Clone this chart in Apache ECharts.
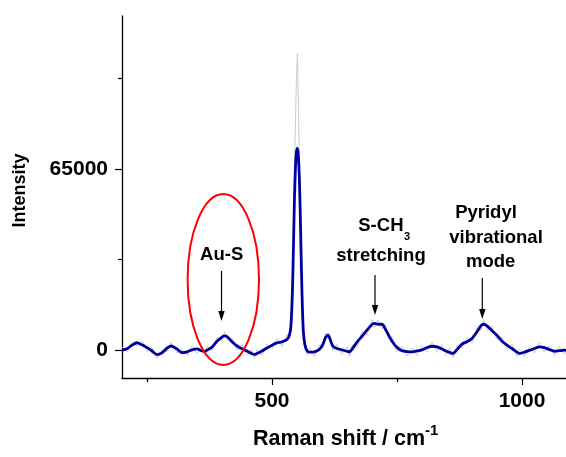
<!DOCTYPE html>
<html>
<head>
<meta charset="utf-8">
<script src="https://cdn.jsdelivr.net/npm/echarts@6/dist/echarts.min.js"></script>
<style>
html,body{margin:0;padding:0;background:#fff;}
#chart{width:566px;height:457px;}
</style>
</head>
<body>
<div id="chart"></div>
<script>
// Raman shift (cm^-1)
const ramanShift = [200,210,220,230,240,250,260,270,280,290,
 298,310,320,330,340,350,360,365,370,380,
 390,400,405,410,420,430,440,450,460,465,
 470,480,490,500,510,520,530,535,538,541,
 543,545,547,549,551,553,555,557,559,561,
 563,566,570,575,585,595,602,607,612,617,
 622,630,640,650,655,660,670,680,690,700,
 705,712,720,726,732,740,750,760,770,780,
 790,800,810,820,830,840,848,856,862,870,
 880,890,900,910,918,923,930,940,950,960,
 970,980,990,995,1005,1015,1025,1035,1045,1055,
 1065,1075,1085,1090];

// Smoothed spectrum (blue)
const smoothed = [0,500,1800,2650,1900,900,-300,-1600,-1000,700,
 1500,400,-900,-600,100,450,-300,-450,0,1100,
 3200,4700,5100,4900,3000,1500,500,-300,-1300,-1550,
 -1200,-300,800,1800,2600,3000,3800,5500,9000,22000,
 38000,55000,66000,71500,72500,69000,60000,45000,28000,14000,
 6000,1800,-200,-700,-600,300,2200,4500,5500,3500,
 1400,600,100,-400,-600,300,2900,5000,7200,9200,
 9600,9300,9300,7800,5800,3200,1000,-200,-500,-600,
 -300,100,900,1400,1200,400,-300,-900,-1200,200,
 2200,3000,4200,6600,8800,9300,8700,7000,5300,3200,
 1800,600,-700,-1200,-700,-100,600,1200,900,200,
 -400,-200,0,-100];

// Raw spectrum (grey)
const raw = [1200,-600,3000,1400,3300,-400,1000,-3000,300,-500,
 2900,-1100,400,-2100,1600,-1000,1300,-1900,1500,-300,
 4600,3300,6700,3600,4500,100,2000,-1800,200,-3100,
 300,-1800,2300,300,4300,1200,5800,4000,10500,24000,
 44000,67000,82000,99000,106600,86000,64000,46000,27000,13000,
 5000,3400,-1800,900,-2200,1900,800,6200,4000,5200,
 -200,2200,-1500,1200,-2300,1800,1300,6600,5600,11000,
 8000,11000,7700,9500,4200,4900,-600,1400,-2100,1000,
 -1900,1700,-700,3000,-400,2000,-1900,700,-2800,1800,
 600,4600,2600,8200,7200,10900,7100,8600,3700,4800,
 200,2200,-2300,400,-2300,1500,-1000,2800,-700,1800,
 -2000,1400,-1600,1300];

const xMajorTicks = [500, 1000];
const xMinorTicks = [250, 750];
const yMajorTicks = [0, 65000];
const yMinorTicks = [32500, 97500];

const FONT = "'Liberation Sans', Arial, Helvetica, sans-serif";
const ANNOT = 'bold 18.5px ' + FONT;

const rawPairs = ramanShift.map((x, i) => [x, raw[i]]);
const smoothPairs = ramanShift.map((x, i) => [x, smoothed[i]]);

const chart = echarts.init(document.getElementById('chart'), null, {renderer: 'canvas'});

const gridBox = {left: 122, right: 0, top: 16, bottom: 79};
const xRange = {min: 200, max: 1088};
const yRange = {min: -10000, max: 120000};
const plain = v => String(v);

const option = {
  animation: false,
  backgroundColor: '#ffffff',
  grid: [
    Object.assign({containLabel: false}, gridBox),
    Object.assign({containLabel: false}, gridBox)
  ],
  xAxis: [
    {
      type: 'value', gridIndex: 0, min: xRange.min, max: xRange.max,
      axisLine: {show: true, onZero: false, lineStyle: {color: '#000', width: 1.3}},
      axisTick: {show: true, customValues: xMajorTicks, length: 7, lineStyle: {color: '#000', width: 1.2}},
      axisLabel: {show: true, customValues: xMajorTicks, formatter: plain, margin: 13, color: '#000',
        fontFamily: FONT, fontWeight: 'bold', fontSize: 21},
      splitLine: {show: false}
    },
    {
      type: 'value', gridIndex: 1, min: xRange.min, max: xRange.max,
      axisLine: {show: false, onZero: false},
      axisTick: {show: true, customValues: xMinorTicks, length: 4, lineStyle: {color: '#000', width: 1.2}},
      axisLabel: {show: false},
      splitLine: {show: false}
    }
  ],
  yAxis: [
    {
      type: 'value', gridIndex: 0, min: yRange.min, max: yRange.max,
      axisLine: {show: true, onZero: false, lineStyle: {color: '#000', width: 1.3}},
      axisTick: {show: true, customValues: yMajorTicks, length: 7, lineStyle: {color: '#000', width: 1.2}},
      axisLabel: {show: true, customValues: yMajorTicks, formatter: plain, margin: 14, color: '#000',
        fontFamily: FONT, fontWeight: 'bold', fontSize: 21},
      splitLine: {show: false}
    },
    {
      type: 'value', gridIndex: 1, min: yRange.min, max: yRange.max,
      axisLine: {show: false, onZero: false},
      axisTick: {show: true, customValues: yMinorTicks, length: 4, lineStyle: {color: '#000', width: 1.2}},
      axisLabel: {show: false},
      splitLine: {show: false}
    }
  ],
  series: [
    {
      name: 'raw', type: 'line', xAxisIndex: 0, yAxisIndex: 0,
      data: rawPairs, showSymbol: false, symbol: 'none',
      lineStyle: {color: '#cccccc', width: 1}, z: 2, silent: true
    },
    {
      name: 'smoothed', type: 'line', xAxisIndex: 0, yAxisIndex: 0,
      data: smoothPairs, showSymbol: false, symbol: 'none', smooth: 0.25,
      lineStyle: {color: '#0000a0', width: 2.8}, z: 3, silent: true
    }
  ],
  graphic: [
    // axis titles
    {type: 'text', x: 20, y: 190.5, rotation: Math.PI / 2,
      style: {text: 'Intensity', font: 'bold 18px ' + FONT, fill: '#000', align: 'center', verticalAlign: 'middle'}},
    {type: 'text', x: 253, y: 439,
      style: {text: 'Raman shift / cm', font: 'bold 21.5px ' + FONT, fill: '#000', align: 'left', verticalAlign: 'middle'}},
    {type: 'text', x: 425, y: 430.5,
      style: {text: '-1', font: 'bold 15px ' + FONT, fill: '#000', align: 'left', verticalAlign: 'middle'}},
    // red ellipse
    {type: 'ellipse', shape: {cx: 223.3, cy: 279.5, rx: 35.7, ry: 85.5},
      style: {fill: 'none', stroke: '#ff0000', lineWidth: 2}, z: 10},
    // Au-S
    {type: 'text', x: 221.7, y: 255,
      style: {text: 'Au-S', font: ANNOT, fill: '#000', align: 'center', verticalAlign: 'middle'}, z: 10},
    {type: 'line', shape: {x1: 221.5, y1: 271, x2: 221.5, y2: 313}, style: {stroke: '#000', lineWidth: 1.2}, z: 10},
    {type: 'polygon', shape: {points: [[218.3, 311], [224.7, 311], [221.5, 321]]}, style: {fill: '#000'}, z: 10},
    // S-CH3 stretching
    {type: 'text', x: 403.5, y: 226,
      style: {text: 'S-CH', font: ANNOT, fill: '#000', align: 'right', verticalAlign: 'middle'}, z: 10},
    {type: 'text', x: 404, y: 236.5,
      style: {text: '3', font: 'bold 11px ' + FONT, fill: '#000', align: 'left', verticalAlign: 'middle'}, z: 10},
    {type: 'text', x: 381, y: 255.5,
      style: {text: 'stretching', font: ANNOT, fill: '#000', align: 'center', verticalAlign: 'middle'}, z: 10},
    {type: 'line', shape: {x1: 375, y1: 275, x2: 375, y2: 307}, style: {stroke: '#000', lineWidth: 1.2}, z: 10},
    {type: 'polygon', shape: {points: [[371.8, 305], [378.2, 305], [375, 315]]}, style: {fill: '#000'}, z: 10},
    // Pyridyl vibrational mode
    {type: 'text', x: 486, y: 213,
      style: {text: 'Pyridyl', font: ANNOT, fill: '#000', align: 'center', verticalAlign: 'middle'}, z: 10},
    {type: 'text', x: 496, y: 238,
      style: {text: 'vibrational', font: ANNOT, fill: '#000', align: 'center', verticalAlign: 'middle'}, z: 10},
    {type: 'text', x: 490.7, y: 261.5,
      style: {text: 'mode', font: ANNOT, fill: '#000', align: 'center', verticalAlign: 'middle'}, z: 10},
    {type: 'line', shape: {x1: 482.3, y1: 278, x2: 482.3, y2: 311}, style: {stroke: '#000', lineWidth: 1.2}, z: 10},
    {type: 'polygon', shape: {points: [[479.1, 309], [485.5, 309], [482.3, 319]]}, style: {fill: '#000'}, z: 10}
  ]
};

chart.setOption(option);
</script>
</body>
</html>
